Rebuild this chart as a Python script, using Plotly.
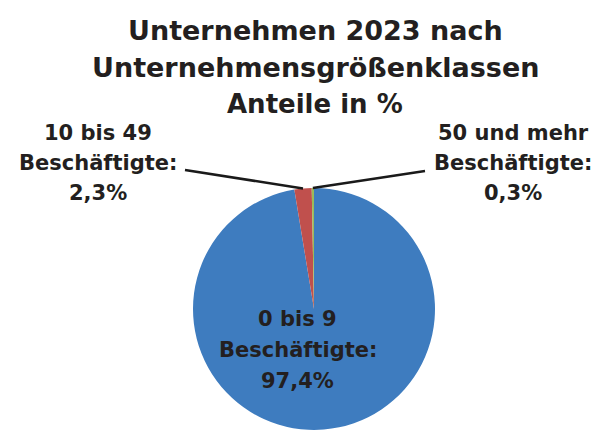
import math
import plotly.graph_objects as go

# Company size classes and their shares (%)
categories = ["0 bis 9<br>Beschäftigte:", "10 bis 49<br>Beschäftigte:", "50 und mehr<br>Beschäftigte:"]
shares = [97.4, 2.3, 0.3]
colors = ["#3E7CBF", "#C0504D", "#9BBB59"]
title_lines = ["Unternehmen 2023 nach", "Unternehmensgrößenklassen", "Anteile in %"]

W, H = 604, 430
TEXT = "#231F20"
FONT = "DejaVu Sans"

# Pie placement in pixels
cx, r = 314, 121
cy = H - r
dom_x = [(cx - r) / W, (cx + r) / W]
dom_y = [0, 2 * r / H]

fig = go.Figure(go.Pie(
    labels=categories,
    values=shares,
    sort=False,
    direction="clockwise",
    rotation=0,
    marker=dict(colors=colors, line=dict(width=0)),
    textinfo="none",
    hoverinfo="label+percent",
    domain=dict(x=dom_x, y=dom_y),
    showlegend=False,
))


def fmt(v):
    return f"{v:.1f}".replace(".", ",") + "%"


def px(x, y):
    return x / W, 1 - y / H


def slice_point(idx, frac=1.0):
    """Point on the pie at the middle angle of slice idx (clockwise from 12 o'clock)."""
    total = sum(shares)
    start = sum(shares[:idx])
    mid = (start + shares[idx] / 2) / total * 2 * math.pi
    return cx + frac * r * math.sin(mid), cy - frac * r * math.cos(mid)


def text_line(text, x, y, size):
    ax, ay = px(x, y)
    return dict(text=f"<b>{text}</b>", x=ax, y=ay, xref="paper", yref="paper",
                showarrow=False, xanchor="center", yanchor="middle",
                font=dict(family=FONT, size=size, color=TEXT))


annotations = []

# Title, one annotation per line
for text, y, size in zip(title_lines, [31, 68, 104.5], [27, 27, 26]):
    annotations.append(text_line(text, 315, y, size))

# Slice labels: slice -> (centre x, first line y, line step, leader line start)
label_pos = {
    0: (297.5, 319, 31, None),
    1: (98, 132.5, 30, (185, 170)),
    2: (513, 132.5, 30, (425, 171)),
}
for idx, (lx, ly, step, lead) in label_pos.items():
    lines = categories[idx].split("<br>") + [fmt(shares[idx])]
    for k, line in enumerate(lines):
        annotations.append(text_line(line, lx, ly + k * step, 21))

shapes = []
for idx, (lx, ly, step, lead) in label_pos.items():
    if lead is None:
        continue
    sx, sy = slice_point(idx)
    x0, y0 = px(*lead)
    x1, y1 = px(sx, sy)
    shapes.append(dict(type="line", xref="paper", yref="paper", x0=x0, y0=y0, x1=x1, y1=y1,
                       line=dict(color="#1A1A1A", width=2.5)))

fig.update_layout(
    width=W, height=H,
    margin=dict(l=0, r=0, t=0, b=0),
    paper_bgcolor="white",
    plot_bgcolor="white",
    annotations=annotations,
    shapes=shapes,
)

fig.write_html("out.html")
